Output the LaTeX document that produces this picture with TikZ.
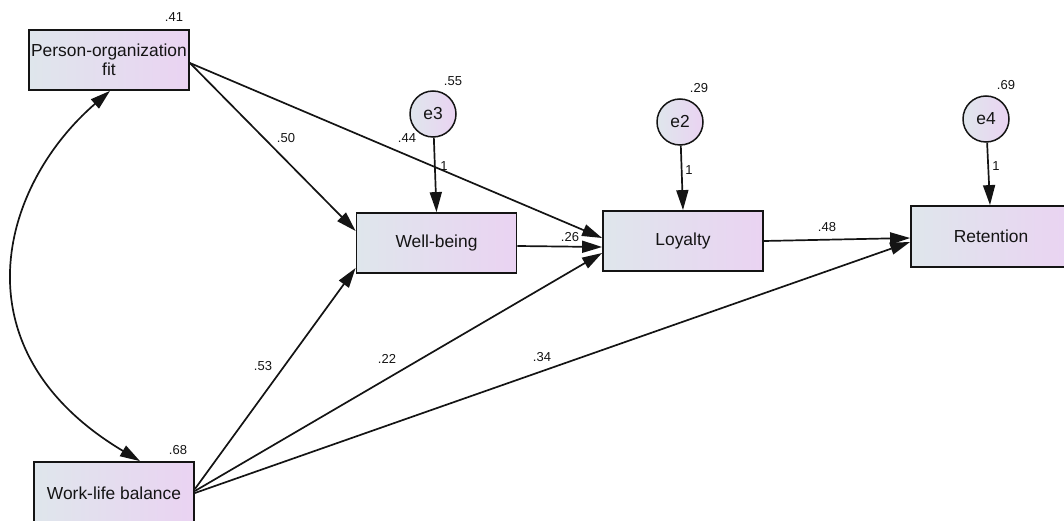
\documentclass[tikz,border=0pt]{standalone}
\usepackage{fontspec}
\setmainfont{Liberation Sans}
\usetikzlibrary{arrows.meta}
\definecolor{fillL}{RGB}{223,230,236}
\definecolor{fillR}{RGB}{234,211,242}
\definecolor{ink}{RGB}{20,20,20}
\tikzset{
  var/.style={draw=ink, line width=1.8pt, left color=fillL, right color=fillR,
    minimum width=160pt, minimum height=60pt, inner sep=0pt,
    font=\fontsize{17.4}{19}\selectfont, text=ink, align=center},
  err/.style={circle, draw=ink, line width=1.5pt, left color=fillL, right color=fillR,
    minimum size=46pt, inner sep=0pt, font=\fontsize{17.4}{19}\selectfont, text=ink},
  coef/.style={font=\fontsize{13}{14}\selectfont, text=ink, inner sep=0pt},
  reg/.style={-{Triangle[length=20pt,width=12pt]}, line width=1.7pt, draw=ink},
  cov/.style={{Triangle[length=20pt,width=12pt]}-{Triangle[length=20pt,width=12pt]},
    line width=1.7pt, draw=ink}
}
\begin{document}
\begin{tikzpicture}[x=1pt, y=-1pt]
\useasboundingbox (0,0) rectangle (1064,521);
\clip (0,0) rectangle (1064,521);

% observed variables
\node[var] (pof) at (109,60) {Person-organization\\fit};
\node[var, minimum height=62pt] (wlb) at (114,493) {Work-life balance};
\node[var] (wb) at (436.5,243) {Well-being};
\node[var] (loy) at (683,241) {Loyalty};
\node[var, minimum height=61pt] (ret) at (991,236.5) {Retention};

% error terms
\node[err] (e3) at (433,114) {e3};
\node[err] (e2) at (680,122) {e2};
\node[err] (e4) at (986,119) {e4};

% regression paths
\draw[reg] ([yshift=-3pt]pof.east) -- ([yshift=12pt]wb.west);
\draw[reg] ([yshift=-3pt]pof.east) -- ([yshift=3pt]loy.west);
\draw[reg] ([yshift=-3pt]wb.east) -- ([yshift=-6pt]loy.west);
\draw[reg] ([yshift=4pt]wlb.east) -- ([yshift=-25pt]wb.west);
\draw[reg] ([yshift=2pt]wlb.east) -- ([yshift=-12pt]loy.west);
\draw[reg] (wlb.east) -- ([yshift=-5.5pt]ret.west);
\draw[reg] (loy.east) -- ([yshift=-1.5pt]ret.west);
\draw[reg] (e3) -- (wb.north);
\draw[reg] (e2) -- (loy.north);
\draw[reg] (e4) -- ([xshift=-1pt]ret.north);

% covariance between the exogenous variables
\draw[cov] ([xshift=1pt]pof.south) .. controls (0,186) and (-46,350) .. ([xshift=26pt]wlb.north);

% estimates
\node[coef] (c41) at (174,17) {.41};
\node[coef] (c68) at (178,450) {.68};
\node[coef] (c55) at (453,81) {.55};
\node[coef] (c29) at (699,88) {.29};
\node[coef] (c69) at (1006,85) {.69};
\node[coef] (c50) at (286,138) {.50};
\node[coef] (c44) at (407,138) {.44};
\node[coef] (c1a) at (444,166) {1};
\node[coef] (c1b) at (689,170) {1};
\node[coef] (c1c) at (996,166) {1};
\node[coef] (c26) at (570,237) {.26};
\node[coef] (c48) at (827,227) {.48};
\node[coef] (c53) at (263,366) {.53};
\node[coef] (c22) at (387,359) {.22};
\node[coef] (c34) at (542,357) {.34};
\end{tikzpicture}
\end{document}
